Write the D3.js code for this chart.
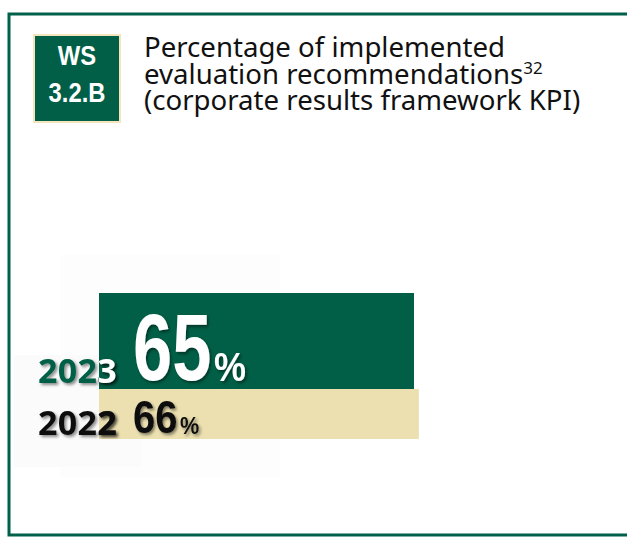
<!DOCTYPE html>
<html>
<head>
<meta charset="utf-8">
<script src="https://cdn.jsdelivr.net/npm/d3@7"></script>
<style>
  body { margin: 0; background: #fff; }
  svg { display: block; }
</style>
</head>
<body>
<svg width="627" height="541"></svg>
<script>
// data
var years = ["2023", "2022"];
var values = [65, 66];
var titleLines = ["Percentage of implemented", "evaluation recommendations", "(corporate results framework KPI)"];
var badgeLines = ["WS", "3.2.B"];

var green = "#005f46", cream = "#ece0b0";
var barFill = [green, cream];
var yearColor = [green, "#111"];
var yearOnBar = ["#fff", "#111"];
var valueColor = ["#fff", "#111"];
var rowHeight = [96, 50];   // bar thickness per row
var valueSize = [94, 47];
var valueSqueeze = [0.75, 0.85];
var pctSize = [40, 24];

var svg = d3.select("svg");

var defs = svg.append("defs");
var f = defs.append("filter").attr("id", "shadow").attr("x", "-20%").attr("y", "-20%").attr("width", "150%").attr("height", "150%");
f.append("feDropShadow").attr("dx", 2).attr("dy", 2).attr("stdDeviation", 1.5).attr("flood-color", "#000").attr("flood-opacity", 0.45);

// frame
svg.append("path")
  .attr("d", "M627,14 H9 V535 H627")
  .attr("fill", "none")
  .attr("stroke", "#00604a")
  .attr("stroke-width", 3);

// badge
svg.append("rect").attr("x", 33).attr("y", 34).attr("width", 88).attr("height", 89).attr("fill", "#f3e6bd");
svg.append("rect").attr("x", 35).attr("y", 36).attr("width", 84).attr("height", 85).attr("fill", green);
svg.selectAll("text.badge")
  .data(badgeLines)
  .enter().append("text")
  .attr("class", "badge")
  .attr("transform", function (d, i) { return "translate(77," + (65 + i * 37) + ") scale(0.85,1)"; })
  .attr("text-anchor", "middle")
  .attr("fill", "#fff")
  .attr("font-family", "Liberation Sans")
  .attr("font-weight", "bold")
  .attr("font-size", "28px")
  .text(function (d) { return d; });

// title
var title = svg.append("text")
  .attr("font-family", "Noto Sans")
  .attr("font-size", "27.6px")
  .attr("fill", "#111");
titleLines.forEach(function (t, i) {
  title.append("tspan").attr("x", 144).attr("y", 57 + i * 26.5).text(t);
  if (i === 1) {
    title.append("tspan").attr("dy", -10).attr("font-size", "17px").text("32");
  }
});

// faint background panels
svg.append("rect").attr("x", 60).attr("y", 255).attr("width", 220).attr("height", 222).attr("fill", "#fdfdfd");
svg.append("rect").attr("x", 14).attr("y", 355).attr("width", 128).attr("height", 112).attr("fill", "#fbfbfb");

// scales
var x = d3.scaleLinear().domain([0, 100]).range([99, 583.6]);
var tops = [];
rowHeight.reduce(function (acc, h, i) { tops[i] = acc; return acc + h; }, 293);

svg.selectAll("rect.bar")
  .data(values)
  .enter().append("rect")
  .attr("class", "bar")
  .attr("x", x(0))
  .attr("y", function (d, i) { return tops[i]; })
  .attr("width", function (d) { return x(d) - x(0); })
  .attr("height", function (d, i) { return rowHeight[i]; })
  .attr("fill", function (d, i) { return barFill[i]; });

// clip paths matching the bars, so year labels change colour where they cross
values.forEach(function (d, i) {
  defs.append("clipPath").attr("id", "clipbar" + i)
    .append("rect")
    .attr("x", x(0)).attr("y", tops[i])
    .attr("width", x(d) - x(0)).attr("height", rowHeight[i]);
});

// year labels
var yearBase = [383, 435];
function yearText(sel, colors) {
  sel.attr("x", 117)
    .attr("y", function (d, i) { return yearBase[i]; })
    .attr("text-anchor", "end")
    .attr("font-family", "Noto Sans")
    .attr("font-weight", "bold")
    .attr("font-size", "34px")
    .attr("letter-spacing", "0.3px")
    .attr("fill", function (d, i) { return colors[i]; })
    .attr("filter", "url(#shadow)")
    .text(function (d) { return d; });
}
yearText(svg.selectAll("text.year").data(years).enter().append("text").attr("class", "year"), yearColor);
svg.selectAll("g.yearclip")
  .data(years)
  .enter().append("g")
  .attr("class", "yearclip")
  .attr("clip-path", function (d, i) { return "url(#clipbar" + i + ")"; })
  .each(function (d, i) {
    var t = d3.select(this).append("text").datum(d);
    t.attr("x", 117).attr("y", yearBase[i])
      .attr("text-anchor", "end")
      .attr("font-family", "Noto Sans")
      .attr("font-weight", "bold")
      .attr("font-size", "34px")
      .attr("letter-spacing", "0.3px")
      .attr("fill", yearOnBar[i])
      .attr("filter", "url(#shadow)")
      .text(d);
  });

// value labels
var base = [380, 433];
svg.selectAll("text.val")
  .data(values)
  .enter().append("text")
  .attr("class", "val")
  .attr("transform", function (d, i) { return "translate(133," + base[i] + ") scale(" + valueSqueeze[i] + ",1)"; })
  .attr("font-family", "Liberation Sans")
  .attr("font-weight", "bold")
  .attr("font-size", function (d, i) { return valueSize[i] + "px"; })
  .attr("fill", function (d, i) { return valueColor[i]; })
  .attr("filter", "url(#shadow)")
  .text(function (d) { return d; });

svg.selectAll("text.pct")
  .data(values)
  .enter().append("text")
  .attr("class", "pct")
  .attr("transform", function (d, i) { return "translate(" + (i === 0 ? 214 : 180) + "," + (base[i] + 1) + ") scale(0.9,1)"; })
  .attr("font-family", "Liberation Sans")
  .attr("font-weight", "bold")
  .attr("font-size", function (d, i) { return pctSize[i] + "px"; })
  .attr("fill", function (d, i) { return valueColor[i]; })
  .attr("filter", "url(#shadow)")
  .text("%");
</script>
</body>
</html>
